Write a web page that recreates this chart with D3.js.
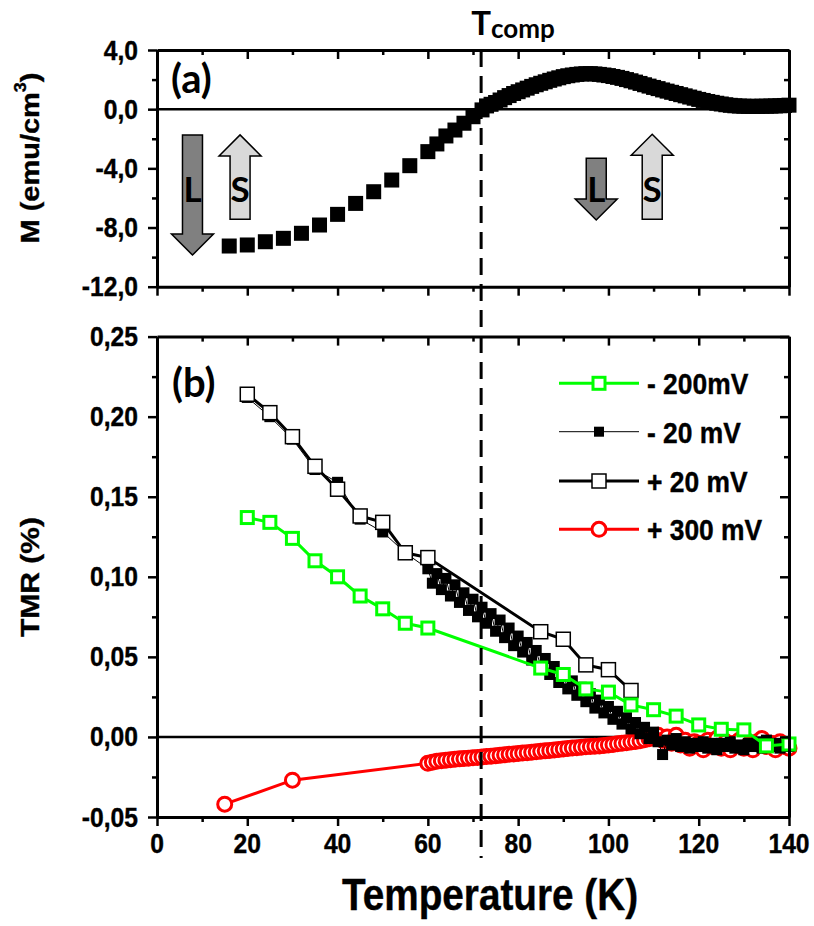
<!DOCTYPE html>
<html><head><meta charset="utf-8">
<script src="https://cdn.jsdelivr.net/npm/d3@7"></script>
<style>body{margin:0;background:#fff}svg{display:block}</style>
</head><body><svg id="c" width="814" height="926"></svg>
<script>
// ---------- DATA ----------
const topT = [16,20,24,28,32,36,40,44,48,52,56,60,62,64,66,68,70,72,73,74,
  75,76,77,78,79,80,81,82,83,84,85,86,87,88,89,90,91,92,93,94,95,96,97,98,99,100,
  101,102,103,104,105,106,107,108,109,110,111,112,113,114,115,116,117,118,119,120,
  121,122,123,124,125,126,127,128,129,130,131,132,133,134,135,136,137,138,139,140];
const topM = [-9.25,-9.18,-8.96,-8.73,-8.39,-7.83,-7.11,-6.37,-5.58,-4.79,-3.82,-2.87,-2.35,-1.81,-1.41,-0.95,-0.51,-0.05,0.22,0.33,
  0.45,0.62,0.78,0.92,1.06,1.18,1.30,1.42,1.54,1.65,1.75,1.85,1.95,2.04,2.12,2.20,2.26,2.31,2.35,2.38,2.40,2.40,2.38,2.35,2.31,2.27,
  2.21,2.15,2.08,2.00,1.92,1.83,1.74,1.65,1.56,1.47,1.39,1.30,1.22,1.14,1.06,0.98,0.90,0.82,0.74,0.66,
  0.59,0.52,0.46,0.40,0.35,0.30,0.26,0.23,0.21,0.20,0.19,0.19,0.19,0.20,0.20,0.21,0.22,0.23,0.25,0.27];

const m200T = [20,25,30,35,40,45,50,55,60,85,90,95,100,105,110,115,120,125,130,135,140];
const m200V = [0.137,0.134,0.124,0.110,0.100,0.088,0.080,0.071,0.068,0.043,0.039,0.030,0.028,0.020,0.017,0.013,0.0075,0.0048,0.0044,-0.0056,-0.0044];

const m20T = [20,25,30,35,40,45,50,55,
  60,61,62,63,64,65,66,67,68,69,70,71,72,73,74,75,76,77,78,79,80,81,82,83,84,85,86,87,88,89,90,
  91,92,93,94,95,96,97,98,99,100,101,102,103,104,105,106,107,108,109,110,111,112,113,114,115,
  116,117,118,119,120,121,122,123,124,125,126,127,128,129,130,131,132,133,134,135,136,137,138,139,140];
const m20V = [0.212,0.200,0.186,0.167,0.159,0.136,0.128,0.115,
  0.105,0.096,0.102,0.092,0.099,0.088,0.095,0.084,0.090,0.079,0.086,0.075,0.081,0.071,0.077,0.066,0.073,0.062,0.068,0.057,0.063,0.053,0.059,0.048,0.054,0.044,0.049,0.039,0.044,0.034,0.039,
  0.030,0.035,0.026,0.031,0.022,0.027,0.018,0.023,0.015,0.019,0.011,0.016,0.008,0.012,0.005,0.009,0.002,0.006,-0.001,0.003,-0.003,-0.011,-0.002,-0.005,-0.001,
  -0.006,-0.003,-0.007,-0.004,-0.006,-0.003,-0.007,-0.004,-0.008,-0.004,-0.006,-0.003,-0.007,-0.005,-0.008,-0.004,-0.006,-0.003,-0.007,-0.002,-0.006,-0.004,-0.007,-0.005,-0.006];

const p20T = [20,25,30,35,40,45,50,55,60,85,90,95,100,105];
const p20V = [0.214,0.2025,0.1875,0.169,0.1547,0.138,0.134,0.115,0.112,0.0657,0.061,0.045,0.042,0.029];

const p300T = [15,30,
  60,61,62,63,64,65,66,67,68,69,70,71,72,73,74,75,76,77,78,79,80,81,82,83,84,85,86,87,88,89,90,
  91,92,93,94,95,96,97,98,99,100,101,102,103,104,105,106,107,108,109,110,111,112,113,114,115,
  116,117,118,119,120,121,122,123,124,125,126,127,128,129,130,131,132,133,134,135,136,137,138,139,140];
const p300V = [-0.042,-0.027,
  -0.0165,-0.0158,-0.0152,-0.0148,-0.0145,-0.0142,-0.0140,-0.0137,-0.0135,-0.0133,-0.0130,-0.0128,-0.0125,-0.0122,-0.0120,-0.0117,-0.0114,-0.0111,-0.0108,-0.0106,-0.0104,-0.0101,-0.0098,-0.0096,-0.0093,-0.0090,-0.0087,-0.0084,-0.0081,-0.0078,-0.0075,
  -0.0072,-0.0069,-0.0067,-0.0064,-0.0062,-0.0060,-0.0058,-0.0056,-0.0053,-0.0050,-0.0047,-0.0043,-0.0040,-0.0036,-0.0032,-0.0028,-0.0024,-0.0018,-0.0012,-0.0006,0.001,-0.002,0.000,-0.004,0.001,
  -0.005,-0.002,-0.007,-0.003,-0.004,-0.008,-0.002,-0.006,-0.001,-0.007,-0.003,-0.008,-0.004,-0.002,-0.007,-0.005,-0.008,-0.003,-0.001,-0.006,-0.004,-0.008,-0.003,-0.006,-0.007];

const xTicks = [0,20,40,60,80,100,120,140];
const xMinor = [10,30,50,70,90,110,130];
const topTicks = [-12,-8,-4,0,4];
const topMinor = [-10,-6,-2,2];
const botTicks = [-0.05,0,0.05,0.10,0.15,0.20,0.25];
const botMinor = [-0.025,0.025,0.075,0.125,0.175,0.225];
const legendLabels = ["- 200mV","- 20 mV","+ 20 mV","+ 300 mV"];
const Tcomp = 71.8;
// arrows: label, centre T, tail M, tip M
const arrowLabels = ["L","S","L","S"];
const arrowT = [7.86,18.4,97.3,109.7];
const arrowTail = [-1.74,-7.44,-3.32,-7.44];
const arrowTip = [-9.86,-1.74,-7.49,-1.70];
const arrowTextM = -6.25;

// ---------- SCALES ----------
const svg = d3.select("#c");
const x = d3.scaleLinear([0,140],[157,789]);
const yT = d3.scaleLinear([-12,4],[286.7,50]);
const yB = d3.scaleLinear([-0.05,0.25],[817,336.6]);
const AF = "'Liberation Sans', Arial, sans-serif";
const CF = "Lato, 'Open Sans', sans-serif";
const SQ = 0.88;

function styleAxis(g){
  g.select(".domain").attr("stroke","#000").attr("stroke-width",3);
  g.selectAll(".tick line").attr("stroke","#000").attr("stroke-width",2.5);
  g.selectAll(".tick text").remove();
}
function frame(y, ticks, minor){
  const L = y.range()[0], T = y.range()[1];
  svg.append("g").attr("transform",`translate(${x(0)},0)`).call(d3.axisLeft(y).tickValues(ticks).tickSize(9).tickSizeOuter(0)).call(styleAxis);
  svg.append("g").attr("transform",`translate(${x(0)},0)`).call(d3.axisLeft(y).tickValues(minor).tickSize(5).tickSizeOuter(0)).call(styleAxis).select(".domain").remove();
  svg.append("g").attr("transform",`translate(${x(140)},0)`).call(d3.axisLeft(y).tickValues(ticks).tickSize(9).tickSizeOuter(0)).call(styleAxis);
  svg.append("g").attr("transform",`translate(${x(140)},0)`).call(d3.axisLeft(y).tickValues(minor).tickSize(5).tickSizeOuter(0)).call(styleAxis).select(".domain").remove();
  svg.append("g").attr("transform",`translate(0,${L})`).call(d3.axisBottom(x).tickValues(xTicks).tickSize(9).tickSizeOuter(0)).call(styleAxis);
  svg.append("g").attr("transform",`translate(0,${L})`).call(d3.axisBottom(x).tickValues(xMinor).tickSize(5).tickSizeOuter(0)).call(styleAxis).select(".domain").remove();
  svg.append("g").attr("transform",`translate(0,${T})`).call(d3.axisBottom(x).tickValues(xTicks).tickSize(9).tickSizeOuter(0)).call(styleAxis);
  svg.append("g").attr("transform",`translate(0,${T})`).call(d3.axisBottom(x).tickValues(xMinor).tickSize(5).tickSizeOuter(0)).call(styleAxis).select(".domain").remove();
}
function hText(txt, px, py, size, anchor, fam, sx){
  return svg.append("text").attr("transform",`translate(${px},${py}) scale(${sx},1)`)
    .attr("text-anchor",anchor).attr("font-family",fam).attr("font-weight","bold")
    .attr("font-size",size).attr("fill","#000").attr("stroke","#000").attr("stroke-width",0.4).text(txt);
}

// ---------- TOP PANEL ----------
svg.append("line").attr("x1",x(0)).attr("x2",x(140)).attr("y1",yT(0)).attr("y2",yT(0)).attr("stroke","#000").attr("stroke-width",2.5);
topTicks.forEach(v=>{
  hText(v.toFixed(1).replace(".",","),138,yT(v),28,"end",AF,SQ).attr("dominant-baseline","central");
});
arrowLabels.forEach((lab,i)=>{
  const cx = x(arrowT[i]), y0 = yT(arrowTail[i]), y1 = yT(arrowTip[i]);
  const dir = y1>y0 ? 1 : -1, hl = 21, sw = 10, hw = 21;
  const yb = y1 - dir*hl;
  const pts = [[cx-sw,y0],[cx+sw,y0],[cx+sw,yb],[cx+hw,yb],[cx,y1],[cx-hw,yb],[cx-sw,yb]];
  svg.append("polygon").attr("points",pts.map(p=>p.join(",")).join(" "))
    .attr("fill", lab==="L" ? "#808080" : "#d9d9d9").attr("stroke","#000").attr("stroke-width",1.5);
  svg.append("text").attr("x",cx).attr("y",yT(arrowTextM)).attr("text-anchor","middle")
    .attr("font-family",CF).attr("font-weight","bold").attr("font-size",35).text(lab);
});
svg.append("g").selectAll("rect").data(topT.map((t,i)=>({t,v:topM[i]}))).join("rect")
  .attr("x",d=>x(d.t)-7.5).attr("y",d=>yT(d.v)-7.5).attr("width",15).attr("height",15).attr("fill","#000");
frame(yT, topTicks, topMinor);
svg.append("text").attr("x",171).attr("y",93).attr("font-family",CF).attr("font-weight","bold").attr("font-size",40).text("(a)");

// ---------- BOTTOM PANEL ----------
svg.append("line").attr("x1",x(0)).attr("x2",x(140)).attr("y1",yB(0)).attr("y2",yB(0)).attr("stroke","#000").attr("stroke-width",2.5);
botTicks.forEach(v=>{
  hText(v.toFixed(2).replace(".",","),138,yB(v),28,"end",AF,SQ).attr("dominant-baseline","central");
});
xTicks.forEach(v=>{
  hText(String(v), x(v), 853, 28, "middle", AF, SQ);
});
const line = d3.line().x(d=>x(d.t)).y(d=>yB(d.v));
const S = (T,V)=>T.map((t,i)=>({t,v:V[i]}));
// +300 mV
svg.append("path").datum(S(p300T,p300V)).attr("d",line).attr("fill","none").attr("stroke","#ff0000").attr("stroke-width",3);
svg.append("g").selectAll("circle").data(S(p300T,p300V)).join("circle")
  .attr("cx",d=>x(d.t)).attr("cy",d=>yB(d.v)).attr("r",7).attr("fill","#fff").attr("stroke","#ff0000").attr("stroke-width",3);
// -20 mV
svg.append("path").datum(S(m20T,m20V)).attr("d",line).attr("fill","none").attr("stroke","#000").attr("stroke-width",1);
svg.append("g").selectAll("rect").data(S(m20T,m20V)).join("rect")
  .attr("x",d=>x(d.t)-5.5).attr("y",d=>yB(d.v)-5.5).attr("width",11).attr("height",11).attr("fill","#000");
// +20 mV
svg.append("path").datum(S(p20T,p20V)).attr("d",line).attr("fill","none").attr("stroke","#000").attr("stroke-width",3);
svg.append("g").selectAll("rect").data(S(p20T,p20V)).join("rect")
  .attr("x",d=>x(d.t)-7).attr("y",d=>yB(d.v)-7).attr("width",14).attr("height",14).attr("fill","#fff").attr("stroke","#000").attr("stroke-width",1.5);
// -200 mV
svg.append("path").datum(S(m200T,m200V)).attr("d",line).attr("fill","none").attr("stroke","#00ff00").attr("stroke-width",3);
svg.append("g").selectAll("rect").data(S(m200T,m200V)).join("rect")
  .attr("x",d=>x(d.t)-6).attr("y",d=>yB(d.v)-6).attr("width",12).attr("height",12).attr("fill","#fff").attr("stroke","#00ff00").attr("stroke-width",3);
frame(yB, botTicks, botMinor);
svg.append("text").attr("x",172).attr("y",397).attr("font-family",CF).attr("font-weight","bold").attr("font-size",40).text("(b)");

// legend
const legY = [383.3,431.7,481,529.3];
const legStroke = ["#00ff00","#000","#000","#ff0000"];
const legW = [3,1,3,3];
legendLabels.forEach((lab,i)=>{
  const yy = legY[i];
  svg.append("line").attr("x1",559).attr("x2",639).attr("y1",yy).attr("y2",yy).attr("stroke",legStroke[i]).attr("stroke-width",legW[i]);
  const cx = 599;
  if(i===0) svg.append("rect").attr("x",cx-6).attr("y",yy-6).attr("width",12).attr("height",12).attr("fill","#fff").attr("stroke","#00ff00").attr("stroke-width",3);
  if(i===1) svg.append("rect").attr("x",cx-5).attr("y",yy-5).attr("width",10).attr("height",10).attr("fill","#000");
  if(i===2) svg.append("rect").attr("x",cx-7).attr("y",yy-7).attr("width",14).attr("height",14).attr("fill","#fff").attr("stroke","#000").attr("stroke-width",1.5);
  if(i===3) svg.append("circle").attr("cx",cx).attr("cy",yy).attr("r",7).attr("fill","#fff").attr("stroke","#ff0000").attr("stroke-width",3);
  hText(lab, 647, yy+11, 30, "start", AF, SQ);
});

// Tcomp dashed line
svg.append("line").attr("x1",x(Tcomp)).attr("x2",x(Tcomp)).attr("y1",50).attr("y2",858)
  .attr("stroke","#000").attr("stroke-width",3).attr("stroke-dasharray","17,9");
const tc = svg.append("text").attr("x",x(Tcomp)-10).attr("y",35).attr("text-anchor","start")
  .attr("font-family",CF).attr("font-weight","bold").attr("fill","#000");
tc.append("tspan").attr("font-size",33).text("T");
tc.append("tspan").attr("font-size",26).attr("dy",3).text("comp");

// axis titles
svg.append("text").attr("transform",`translate(30,577) rotate(-90) scale(1,${SQ})`).attr("text-anchor","middle")
  .attr("dominant-baseline","central").attr("font-family",AF).attr("font-weight","bold").attr("font-size",30)
  .attr("stroke","#000").attr("stroke-width",0.4).text("TMR (%)");
const mt = svg.append("text").attr("transform",`translate(30,158) rotate(-90) scale(1,${SQ})`).attr("text-anchor","middle")
  .attr("dominant-baseline","central").attr("font-family",AF).attr("font-weight","bold").attr("font-size",29)
  .attr("stroke","#000").attr("stroke-width",0.4);
mt.append("tspan").text("M (emu/cm");
mt.append("tspan").attr("font-size",18).attr("dy",-11).text("3");
mt.append("tspan").attr("dy",11).text(")");
hText("Temperature (K)", 490, 910, 44, "middle", AF, SQ);
</script></body></html>
